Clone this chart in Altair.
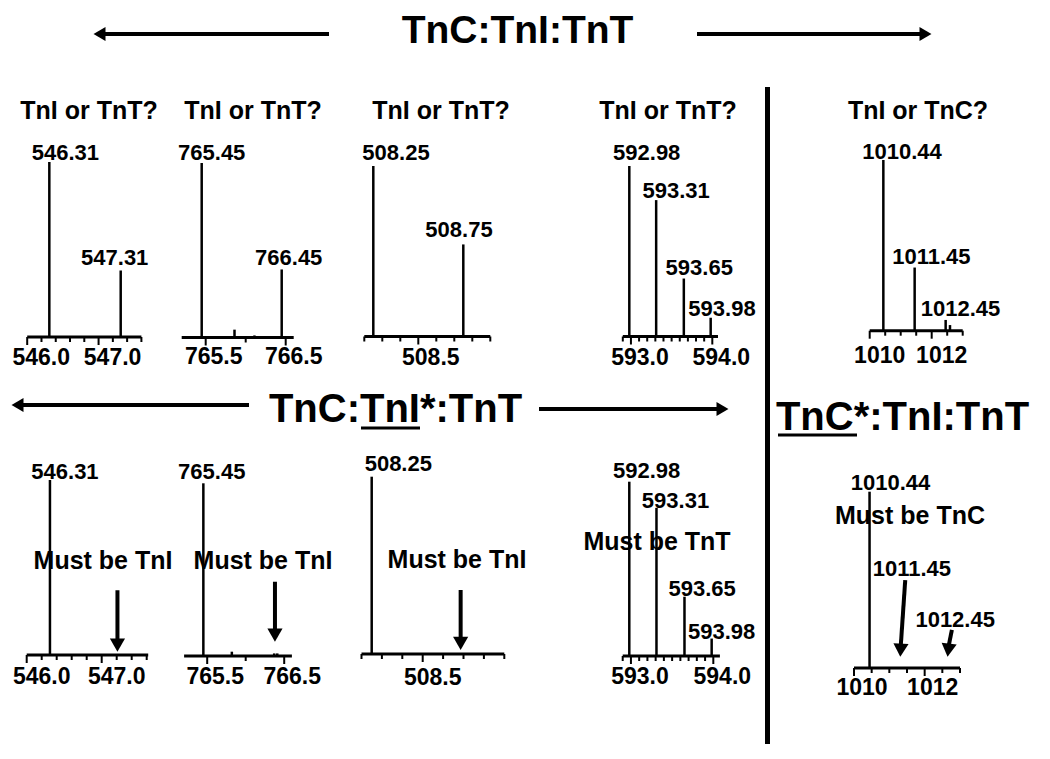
import altair as alt
import pandas as pd

FONT = "Liberation Sans, Arial, Helvetica, sans-serif"
OFF = 8  # page margin; layout numbers below are page pixels

# ---------------- data ----------------
# upper row : TnC:TnI:TnT
u1_mz = [546.31, 547.31]
u1_int = [100, 38]
u1_lab = ["546.31", "547.31"]
u1_ticks = [546.0, 546.2, 546.4, 546.6, 546.8, 547.0, 547.2, 547.4, 547.6]
u1_tick_lab = ["546.0", "547.0"]

u2_mz = [765.45, 765.86, 766.11, 766.45]
u2_int = [100, 4.5, 1.2, 39]
u2_lab = ["765.45", "766.45"]
u2_ticks = [765.5, 766.0, 766.5]
u2_tick_lab = ["765.5", "766.5"]

u3_mz = [508.25, 508.75]
u3_int = [100, 54]
u3_lab = ["508.25", "508.75"]
u3_ticks = [508.2, 508.3, 508.4, 508.5, 508.6, 508.7, 508.8, 508.9]
u3_tick_lab = ["508.5"]

u4_mz = [592.98, 593.31, 593.65, 593.98]
u4_int = [100, 80, 34, 11]
u4_lab = ["592.98", "593.31", "593.65", "593.98"]
u4_ticks = [592.9, 593.0, 593.1, 593.2, 593.3, 593.4, 593.5, 593.6, 593.7, 593.8, 593.9, 594.0]
u4_tick_lab = ["593.0", "594.0"]

u5_mz = [1010.44, 1011.45, 1012.45, 1012.59]
u5_int = [100, 37, 6.3, 3.3]
u5_lab = ["1010.44", "1011.45", "1012.45"]
u5_ticks = [1010.0, 1010.5, 1011.0, 1011.5, 1012.0, 1012.5, 1013.0]
u5_tick_lab = ["1010", "1012"]

# lower row : TnC:TnI*:TnT  and  TnC*:TnI:TnT
l1_mz = [546.31]
l1_int = [100]
l1_lab = ["546.31"]
l1_ticks = [546.0, 546.2, 546.4, 546.6, 546.8, 547.0, 547.2, 547.4, 547.6]
l1_tick_lab = ["546.0", "547.0"]

l2_mz = [765.45, 765.82, 766.37, 766.41]
l2_int = [100, 2.5, 1.5, 1.5]
l2_lab = ["765.45"]
l2_ticks = [765.5, 766.0, 766.5]
l2_tick_lab = ["765.5", "766.5"]

l3_mz = [508.25]
l3_int = [100]
l3_lab = ["508.25"]
l3_ticks = [508.2, 508.3, 508.4, 508.5, 508.6, 508.7, 508.8, 508.9]
l3_tick_lab = ["508.5"]

l4_mz = [592.98, 593.31, 593.65, 593.98]
l4_int = [100, 85, 34, 10]
l4_lab = ["592.98", "593.31", "593.65", "593.98"]
l4_ticks = [592.9, 593.0, 593.1, 593.2, 593.3, 593.4, 593.5, 593.6, 593.7, 593.8, 593.9, 594.0]
l4_tick_lab = ["593.0", "594.0"]

l5_mz = [1010.44]
l5_int = [100]
l5_lab = ["1010.44"]
l5_ticks = [1010.0, 1010.5, 1011.0, 1011.5, 1012.0, 1012.5, 1013.0]
l5_tick_lab = ["1010", "1012"]

panel_titles = ["TnI or TnT?", "TnI or TnT?", "TnI or TnT?", "TnI or TnT?", "TnI or TnC?"]
notes = ["Must be TnI", "Must be TnI", "Must be TnI", "Must be TnT", "Must be TnC"]
headings = ["TnC:TnI:TnT", "TnC:TnI*:TnT", "TnC*:TnI:TnT"]

# ---------------- layout (page pixels) ----------------
LAY = {
    "u1": dict(dom=[546.0, 547.6], xr=[27.2, 141.4], base=337, top=162, tdx=14, tly=365,
               off=[(16, -2), (-6, -6)], title=(89, 119)),
    "u2": dict(dom=[765.2, 766.6], xr=[181.7, 293.7], base=337.5, top=163, tdx=8, tly=364,
               off=[(10, -3), (7, -4)], title=(253, 119)),
    "u3": dict(dom=[508.2, 508.9], xr=[364.3, 490.3], base=336.5, top=166, tdx=12.5, tly=365,
               off=[(22.7, -6), (-4.3, -7)], title=(441, 119)),
    "u4": dict(dom=[592.9, 594.07], xr=[622.8, 718.0], base=336.5, top=166, tdx=9, tly=365,
               off=[(17.4, -6), (20, -2), (15.4, -4), (11.3, -2)], title=(668, 119)),
    "u5": dict(dom=[1010.0, 1013.0], xr=[869.7, 962.7], base=330.7, top=160, tdx=10, tly=363,
               off=[(18.7, -1), (16.7, -4), (14.8, -4)], title=(918, 119)),
    "l1": dict(dom=[546.0, 547.62], xr=[26.7, 148.2], base=655, top=480, tdx=15, tly=684,
               off=[(15, -1)], note=(103, 569),
               arrows=[dict(m1=547.21, i1=37, m2=547.21, i2=1.9, ang=0)]),
    "l2": dict(dom=[765.2, 766.6], xr=[184.1, 291.9], base=656, top=483.3, tdx=8, tly=684,
               off=[(8.4, -4)], note=(263, 569),
               arrows=[dict(m1=766.38, i1=43, m2=766.38, i2=8.3, ang=0)]),
    "l3": dict(dom=[508.2, 508.9], xr=[361.5, 504.3], base=654, top=476.7, tdx=10, tly=685,
               off=[(26.6, -6)], note=(457, 568),
               arrows=[dict(m1=508.686, i1=36.1, m2=508.686, i2=2.3, ang=0)]),
    "l4": dict(dom=[592.9, 594.08], xr=[622.7, 719.9], base=656, top=481.7, tdx=9, tly=684,
               off=[(17.4, -4), (19, 0), (17.7, -1), (10, 0)], note=(657, 550)),
    "l5": dict(dom=[1010.0, 1013.0], xr=[854, 960], base=668, top=491.7, tdx=8, tly=695,
               off=[(21, -2)], note=(910, 524),
               arrows=[dict(m1=1011.45, i1=49.9, m2=1011.32, i2=6.4, ang=3, lab="1011.45", ldx=6.7, ldy=-4),
                       dict(m1=1012.77, i1=21.6, m2=1012.67, i2=6.4, ang=7, lab="1012.45", ldx=3.3, ldy=-3)]),
}


def P(v):
    return v - OFF


def txt(df, **kw):
    base = dict(font=FONT, fontWeight="bold", color="black")
    base.update(kw)
    return alt.Chart(df).mark_text(**base)


def panel(key, mz, inten, labels, ticks, tick_labels, title=None, note=None):
    L = LAY[key]
    xs = alt.Scale(domain=L["dom"], range=[P(L["xr"][0]), P(L["xr"][1])], nice=False, zero=False)
    ys = alt.Scale(domain=[0, 100], range=[P(L["base"]), P(L["top"])], nice=False, zero=False)

    def X(f):
        return alt.X(f, type="quantitative", scale=xs, axis=None)

    def Y(f):
        return alt.Y(f, type="quantitative", scale=ys, axis=None)

    out = []
    peaks = pd.DataFrame({"mz": mz, "i": inten, "z": [0] * len(mz)})
    out.append(alt.Chart(peaks).mark_rule(color="black", strokeWidth=2.5)
               .encode(x=X("mz"), y=Y("i"), y2=alt.Y2("z")))
    ax = pd.DataFrame({"a": [L["dom"][0]], "b": [L["dom"][1]], "z": [0]})
    out.append(alt.Chart(ax).mark_rule(color="black", strokeWidth=3)
               .encode(x=X("a"), x2=alt.X2("b"), y=Y("z")))
    majors = [float(t) for t in tick_labels]
    minor = [t for t in ticks if all(abs(t - m) > 1e-6 for m in majors)]
    major = [t for t in ticks if any(abs(t - m) < 1e-6 for m in majors)]
    for vals, ln in ((minor, 5), (major, 8)):
        if vals:
            tdf = pd.DataFrame({"v": vals, "z": [0] * len(vals)})
            out.append(alt.Chart(tdf).mark_rule(color="black", strokeWidth=2, y2Offset=ln)
                       .encode(x=X("v"), y=Y("z"), y2=alt.Y2("z")))
    tl = pd.DataFrame({"v": majors, "t": tick_labels, "z": [0] * len(majors)})
    out.append(txt(tl, fontSize=23, align="center", baseline="alphabetic",
                   dx=L["tdx"], dy=L["tly"] - L["base"])
               .encode(x=X("v"), y=Y("z"), text="t:N"))
    lookup = dict(zip(mz, inten))
    for lab, (dx, dy) in zip(labels, L["off"]):
        m = float(lab)
        ldf = pd.DataFrame({"mz": [m], "i": [lookup[m]], "t": [lab]})
        out.append(txt(ldf, fontSize=22, align="center", baseline="alphabetic", dx=dx, dy=dy)
                   .encode(x=X("mz"), y=Y("i"), text="t:N"))
    for a in L.get("arrows", []):
        adf = pd.DataFrame({"m1": [a["m1"]], "i1": [a["i1"]], "m2": [a["m2"]], "i2": [a["i2"]]})
        out.append(alt.Chart(adf).mark_rule(color="black", strokeWidth=4, y2Offset=-9)
                   .encode(x=X("m1"), x2=alt.X2("m2"), y=Y("i1"), y2=alt.Y2("i2")))
        out.append(alt.Chart(adf).mark_point(shape="triangle-down", filled=True, color="black",
                                             size=230, opacity=1, yOffset=-6.5, angle=a["ang"])
                   .encode(x=X("m2"), y=Y("i2")))
        if "lab" in a:
            ldf = pd.DataFrame({"mz": [a["m1"]], "i": [a["i1"]], "t": [a["lab"]]})
            out.append(txt(ldf, fontSize=22, align="center", baseline="alphabetic",
                           dx=a["ldx"], dy=a["ldy"])
                       .encode(x=X("mz"), y=Y("i"), text="t:N"))
    if title is not None:
        tx, ty = L["title"]
        out.append(txt(pd.DataFrame({"t": [title]}), fontSize=25, align="center", baseline="alphabetic")
                   .encode(x=alt.value(P(tx)), y=alt.value(P(ty)), text="t:N"))
    if note is not None:
        nx, ny = L["note"]
        out.append(txt(pd.DataFrame({"t": [note]}), fontSize=25, align="center", baseline="alphabetic")
                   .encode(x=alt.value(P(nx)), y=alt.value(P(ny)), text="t:N"))
    return out


layers = []
layers += panel("u1", u1_mz, u1_int, u1_lab, u1_ticks, u1_tick_lab, title=panel_titles[0])
layers += panel("u2", u2_mz, u2_int, u2_lab, u2_ticks, u2_tick_lab, title=panel_titles[1])
layers += panel("u3", u3_mz, u3_int, u3_lab, u3_ticks, u3_tick_lab, title=panel_titles[2])
layers += panel("u4", u4_mz, u4_int, u4_lab, u4_ticks, u4_tick_lab, title=panel_titles[3])
layers += panel("u5", u5_mz, u5_int, u5_lab, u5_ticks, u5_tick_lab, title=panel_titles[4])
layers += panel("l1", l1_mz, l1_int, l1_lab, l1_ticks, l1_tick_lab, note=notes[0])
layers += panel("l2", l2_mz, l2_int, l2_lab, l2_ticks, l2_tick_lab, note=notes[1])
layers += panel("l3", l3_mz, l3_int, l3_lab, l3_ticks, l3_tick_lab, note=notes[2])
layers += panel("l4", l4_mz, l4_int, l4_lab, l4_ticks, l4_tick_lab, note=notes[3])
layers += panel("l5", l5_mz, l5_int, l5_lab, l5_ticks, l5_tick_lab, note=notes[4])

one = pd.DataFrame({"k": [0]})


def hline(x1, x2, y, w):
    return alt.Chart(one).mark_rule(color="black", strokeWidth=w).encode(
        x=alt.value(P(x1)), x2=alt.value(P(x2)), y=alt.value(P(y)))


def head(x, y, shape, dxo):
    return alt.Chart(one).mark_point(shape=shape, filled=True, color="black", size=190,
                                     opacity=1, xOffset=dxo).encode(
        x=alt.value(P(x)), y=alt.value(P(y)))


# headings
layers.append(txt(pd.DataFrame({"t": [headings[0]]}), fontSize=39, align="center", baseline="alphabetic")
              .encode(x=alt.value(P(517.5)), y=alt.value(P(43)), text="t:N"))
layers.append(txt(pd.DataFrame({"t": [headings[1]]}), fontSize=40, align="center", baseline="alphabetic")
              .encode(x=alt.value(P(395.5)), y=alt.value(P(422)), text="t:N"))
layers.append(txt(pd.DataFrame({"t": [headings[2]]}), fontSize=40, align="center", baseline="alphabetic")
              .encode(x=alt.value(P(902.5)), y=alt.value(P(430)), text="t:N"))
# underlines
layers.append(hline(361, 420, 428, 3))
layers.append(hline(778, 857, 435, 3))
# heading arrows
layers.append(hline(102, 329, 34, 4))
layers.append(head(94, 34, "triangle-left", 5.5))
layers.append(hline(697, 923, 34, 4))
layers.append(head(931, 34, "triangle-right", -5.5))
layers.append(hline(20, 249, 405, 4))
layers.append(head(12, 405, "triangle-left", 5.5))
layers.append(hline(539, 720, 409, 4))
layers.append(head(728, 409, "triangle-right", -5.5))
# vertical separator
layers.append(alt.Chart(one).mark_rule(color="black", strokeWidth=5).encode(
    x=alt.value(P(767.5)), y=alt.value(P(87)), y2=alt.value(P(744))))

chart = (
    alt.layer(*layers)
    .resolve_scale(x="independent", y="independent")
    .properties(width=1034, height=737, padding=0,
                autosize=alt.AutoSizeParams(type="none"), background="white")
    .configure_view(stroke=None)
)

chart.save("out.html", embed_options={"renderer": "svg", "actions": False})
